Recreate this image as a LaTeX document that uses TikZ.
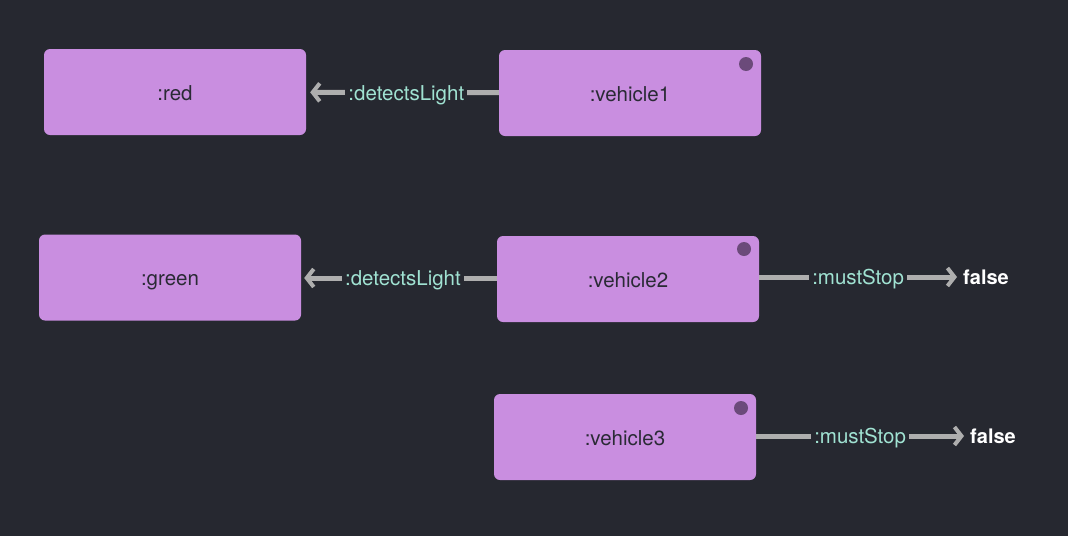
\documentclass[tikz,border=0pt]{standalone}
\usepackage{fontspec}
\setmainfont{TeX Gyre Heros}
\usetikzlibrary{arrows.meta}
\definecolor{bg}{HTML}{262830}
\definecolor{boxc}{HTML}{C98EE0}
\definecolor{dotc}{HTML}{6B4A7A}
\definecolor{txt}{HTML}{2A2A35}
\definecolor{lblc}{HTML}{A0E2D2}
\definecolor{edgec}{HTML}{AEAEAE}
\tikzset{
  entity/.style={fill=boxc, rounded corners=6pt, minimum width=262pt, minimum height=86pt,
    inner sep=0pt, text=txt, font=\fontsize{20.5}{24}\selectfont, text height=17pt, text depth=1pt},
  dotmark/.style={circle, fill=dotc, inner sep=0pt, minimum size=14pt},
  rel/.style={draw=edgec, line width=5pt, -{Straight Barb[length=7pt,width=18pt,line width=4pt]}},
  lbl/.style={fill=bg, text=lblc, inner sep=3pt, font=\fontsize{20.5}{24}\selectfont, text height=16pt, text depth=1pt},
  lit/.style={text=white, font=\bfseries\fontsize{20}{24}\selectfont, inner sep=6pt},
}
\begin{document}
\begin{tikzpicture}[x=1pt,y=-1pt]
\fill[bg] (0,0) rectangle (1068,536);
\useasboundingbox (0,0) rectangle (1068,536);
\node[entity] (red) at (175,92) {:red};
\node[entity] (v1) at (630,93) {:vehicle1};
\node[dotmark] (d1) at (746,64) {};
\node[entity] (green) at (170,277.5) {:green};
\node[entity] (v2) at (628,279) {:vehicle2};
\node[dotmark] (d2) at (744,249) {};
\node[entity] (v3) at (625,437) {:vehicle3};
\node[dotmark] (d3) at (741,408) {};
\node[lit] (f2) at (986,277) {false};
\node[lit] (f3) at (993,436) {false};
\draw[rel, shorten >=4pt] (v1) -- node[lbl, pos=0.48] {:detectsLight} (red);
\draw[rel, shorten >=3pt] (v2.west |- 0,278) -- node[lbl, pos=0.48] {:detectsLight} (green.east |- 0,278);
\draw[rel] (v2.east |- 0,277) -- node[lbl, pos=0.5] {:mustStop} (f2);
\draw[rel] (v3.east |- 0,436) -- node[lbl, pos=0.5] {:mustStop} (f3);
\end{tikzpicture}
\end{document}
